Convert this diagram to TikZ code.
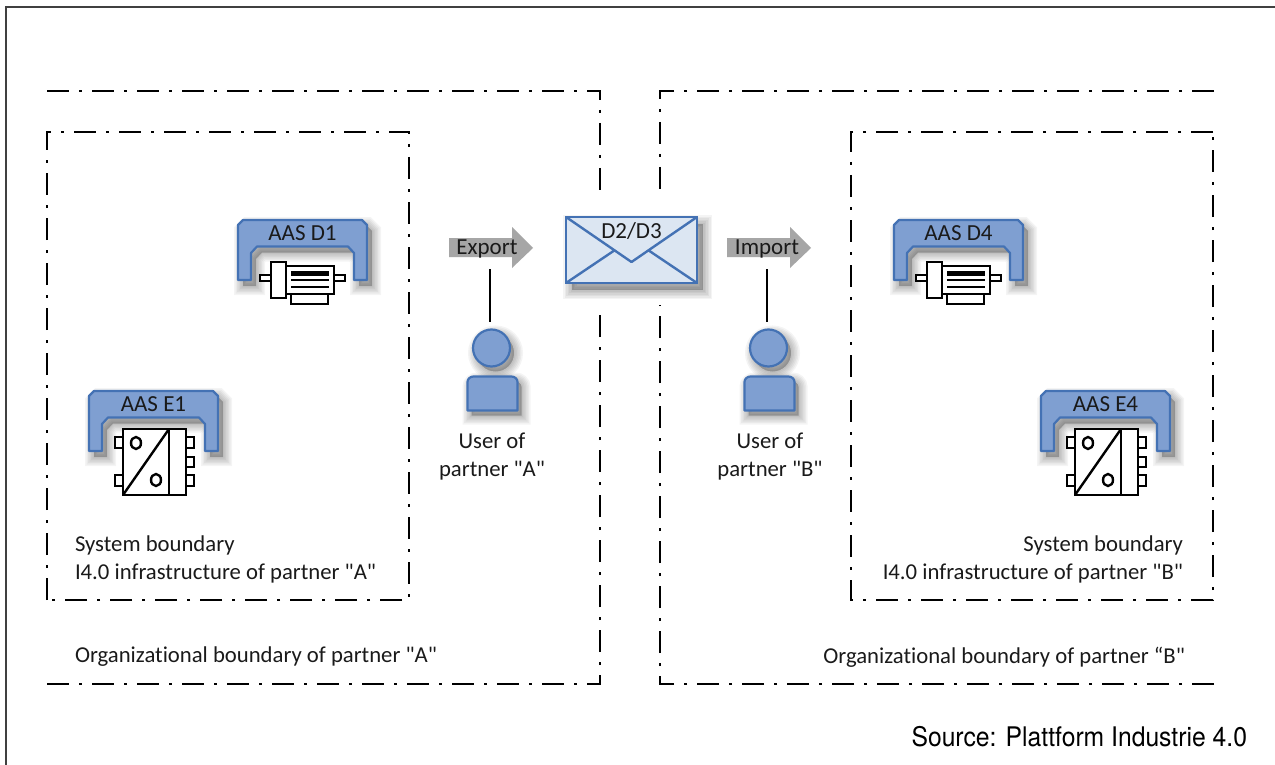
\documentclass[tikz,border=0pt]{standalone}
\usepackage{fontspec}
\newfontfamily\capfont[Ligatures=NoCommon]{Carlito}
\newfontfamily\srcfont[FakeStretch=0.915]{TeX Gyre Heros}
\definecolor{aasfill}{HTML}{7F9FD1}
\definecolor{aasline}{HTML}{4472B4}
\definecolor{envfill}{HTML}{DCE6F2}
\definecolor{arrowgray}{HTML}{A6A6A6}
\definecolor{txt}{HTML}{1A1A1A}
\newcommand{\softshadow}[2][5]{\foreach \w in {18,15,12,9,6,3}{\path[fill=black,draw=black,fill opacity=.045,draw opacity=.045,line width=\w pt,shift={(#1,#1+1)}] #2;}}
\newcommand{\aasicon}[4]{% x, y, name, label
  \begin{scope}[shift={(#1,#2)}]
    \softshadow{(1,61) -- (1,6) -- (6,1) -- (125,1) -- (130,6) -- (130,61) -- (117,61) -- (117,34) -- (111,27.5) -- (20,27.5) -- (14,34) -- (14,61) -- cycle}
    \path[bracket] (1,61) -- (1,6) -- (6,1) -- (125,1) -- (130,6) -- (130,61) -- (117,61) -- (117,34) -- (111,27.5) -- (20,27.5) -- (14,34) -- (14,61) -- cycle;
    \node[label text] (#3) at (65.5,14) {#4};
  \end{scope}}
\newcommand{\motoricon}[2]{%
  \begin{scope}[shift={(#1,#2)}]
    \draw[icon] (54,75) rectangle (91,85);
    \draw[icon] (23,56) rectangle (34,62);
    \draw[icon] (97,56) rectangle (108,62);
    \draw[icon] (49,47) rectangle (97,75);
    \draw[icon] (34,43) rectangle (49,79);
    \fill (54,52) rectangle (92,57);
    \draw[line width=2.4pt] (54,61) -- (92,61) (54,68) -- (92,68);
  \end{scope}}
\newcommand{\convicon}[2]{%
  \begin{scope}[shift={(#1,#2)}]
    \draw[icon] (27,47) rectangle (35,58);
    \draw[icon] (27,85) rectangle (35,96);
    \draw[icon] (98,47) rectangle (106,58);
    \draw[icon] (98,67) rectangle (106,77);
    \draw[icon] (98,85) rectangle (106,96);
    \draw[icon] (35,39) rectangle (98,105);
    \draw[icon] (81,39) -- (81,105);
    \draw[icon] (81,39) -- (35,105);
    \draw[icon] (48,53) ellipse (5 and 6);
    \draw[icon] (68,90) ellipse (5 and 6);
  \end{scope}}
\newcommand{\personicon}[2]{%
  \begin{scope}[shift={(#1,#2)}]
    \softshadow[4]{(0,35) circle (18.5)}
    \softshadow[4]{(-24,97.5) -- (-24,69) to[out=90,in=180] (-18,63.5) -- (20,63.5) to[out=0,in=90] (26,69) -- (26,97.5) -- cycle}
    \path[bracket] (0,35) circle (18.5);
    \path[bracket] (-24,97.5) -- (-24,69) to[out=90,in=180] (-18,63.5) -- (20,63.5) to[out=0,in=90] (26,69) -- (26,97.5) -- cycle;
  \end{scope}}
\tikzset{
  x=1pt,y=-1pt,
  every node/.style={inner sep=0pt,outer sep=0pt,text=txt},
  boundary/.style={line width=2.8pt,black,dash pattern=on 22pt off 10pt on 3pt off 10pt},
  bracket/.style={fill=aasfill,draw=aasline,line width=2.2pt,line join=round},
  icon/.style={draw=black,fill=white,line width=2.4pt},
  label text/.style={font=\capfont\fontsize{23}{26}\selectfont},
  caption/.style={font=\capfont\fontsize{22.7}{28}\selectfont},
  arrowbody/.style={fill=arrowgray,draw=none},
  userline/.style={black,line width=2.6pt}
}
\begin{document}
\begin{tikzpicture}
\useasboundingbox (0,0) rectangle (1275,765);
\fill[white] (0,0) rectangle (1275,765);
% frame
\draw[black!75,line width=2pt] (6,765) -- (6,7) -- (1275,7);
% boundaries
\draw[boundary] (47,91) -- (600,91) -- (600,190);
\draw[boundary] (47,684) -- (600,684) -- (600,305);
\draw[boundary] (1214,91) -- (660,91) -- (660,190);
\draw[boundary] (1214,684) -- (660,684) -- (660,305);
\draw[boundary] (47,600) -- (47,132) -- (409,132) -- (409,600) -- cycle;
\draw[boundary] (1213,132) -- (851,132) -- (851,600) -- (1213,600) -- cycle;
% AAS
\aasicon{237}{219}{d1}{AAS D1}
\aasicon{88}{390}{e1}{AAS E1}
\aasicon{893}{219}{d4}{AAS D4}
\aasicon{1040}{390}{e4}{AAS E4}
\motoricon{237}{219}
\motoricon{893}{219}
\convicon{88}{390}
\convicon{1040}{390}
% envelope
\softshadow[6]{(566,217) rectangle (697,283)}
\path[fill=envfill,draw=aasline,line width=2.4pt] (566,217) rectangle (697,283);
\draw[aasline,line width=2.4pt,line join=round] (566,217) -- (631.5,262) -- (697,217);
\draw[aasline,line width=2.4pt] (566,283) -- (615,250) (697,283) -- (648,250);
\node[label text] (env) at (631.5,231) {D2/D3};
% arrows
\path[arrowbody] (449,238) -- (512,238) -- (512,227) -- (533,248) -- (512,268) -- (512,257) -- (449,257) -- cycle;
\node[label text] (export) at (487,249) {Export};
\path[arrowbody] (727,238) -- (790,238) -- (790,227) -- (811,248) -- (790,268) -- (790,257) -- (727,257) -- cycle;
\node[label text] (import) at (767,249) {Import};
% users
\personicon{491.5}{313}
\personicon{768.5}{313}
\coordinate (la1) at (490,269);
\coordinate (la2) at (490,322);
\coordinate (lb1) at (767,269);
\coordinate (lb2) at (767,322);
\draw[userline] (la1) -- (la2);
\draw[userline] (lb1) -- (lb2);
\node[caption,align=center] (usera) at (492,456.5) {User of\\partner "A"};
\node[caption,align=center] (userb) at (770,456.5) {User of\\partner "B"};
% captions
\node[caption,align=left,anchor=west] (sysa) at (75,559.5) {System boundary\\I4.0 infrastructure of partner "A"};
\node[caption,align=right,anchor=east] (sysb) at (1183,559.5) {System boundary\\I4.0 infrastructure of partner "B"};
\node[caption,anchor=west] (orga) at (75,657) {Organizational boundary of partner "A"};
\node[caption,anchor=east] (orgb) at (1185,657) {Organizational boundary of partner “B"};
\node[font=\srcfont\fontsize{27}{30}\selectfont,anchor=east,text=black] (src) at (1247,737) {Source: Plattform Industrie 4.0};
\end{tikzpicture}
\end{document}
